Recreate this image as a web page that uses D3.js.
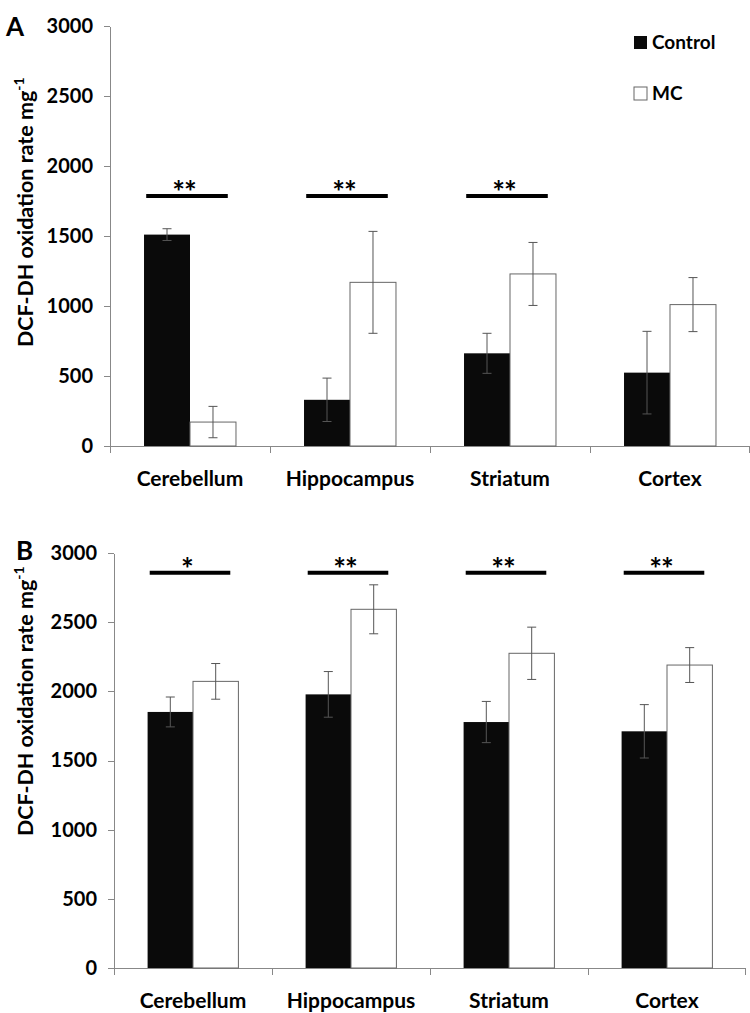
<!DOCTYPE html>
<html lang="en">
<head>
    <meta charset="UTF-8">
    <title>DCF-DH oxidation rate</title>
    <script src="https://d3js.org/d3.v7.min.js"></script>
    <style>
        *{padding:0; margin:0; box-sizing:border-box;}
        body{background:#fff;}
        text{font-family:Lato, "Open Sans", sans-serif; font-weight:700; fill:#000;}
        .axis path, .axis line{stroke:#888; stroke-width:1; shape-rendering:crispEdges;}
    </style>
</head>
<body>
    <script>
        // categories and series
        const regions = ['Cerebellum', 'Hippocampus', 'Striatum', 'Cortex'];
        const groups = ['Control', 'MC'];
        const yTicks = [0, 500, 1000, 1500, 2000, 2500, 3000];

        // panel A
        const aControl = [1510, 330, 662, 524];
        const aControlErr = [42, 155, 143, 295];
        const aMC = [171, 1169, 1229, 1010];
        const aMCErr = [112, 364, 225, 193];
        const aSig = ['**', '**', '**', ''];
        const aSigLevel = 1786;

        // panel B
        const bControl = [1851, 1978, 1778, 1711];
        const bControlErr = [108, 165, 149, 193];
        const bMC = [2072, 2593, 2275, 2190];
        const bMCErr = [129, 177, 189, 126];
        const bSig = ['*', '**', '**', '**'];
        const bSigLevel = 2858;

        const svg = d3.select('body').append('svg')
            .attr('width', 750).attr('height', 1013);

        function panel(opt){
            const g = svg.append('g');
            const x = d3.scaleBand().domain(regions).range([opt.left, opt.right]);
            const xi = d3.scaleBand().domain(groups).range([0, x.bandwidth()])
                .paddingInner(0).paddingOuter(0.74);
            const y = d3.scaleLinear().domain([0, 3000]).range([opt.bottom, opt.top]);

            // y axis
            g.append('g').attr('class', 'axis')
                .attr('transform', 'translate(' + opt.left + ',0)')
                .call(d3.axisLeft(y).tickValues(yTicks).tickFormat(d3.format('d'))
                    .tickSize(6).tickSizeOuter(0).tickPadding(11))
                .call(a => a.selectAll('text').style('font-size', '20px'));

            // x axis baseline + ticks at category boundaries
            const xa = g.append('g').attr('class', 'axis');
            xa.append('line')
                .attr('x1', opt.left).attr('x2', opt.right)
                .attr('y1', opt.bottom).attr('y2', opt.bottom);
            xa.selectAll('line.b').data(regions.concat(['end'])).enter().append('line')
                .attr('class', 'b')
                .attr('x1', (d, i) => i < regions.length ? x(d) : opt.right - 1)
                .attr('x2', (d, i) => i < regions.length ? x(d) : opt.right - 1)
                .attr('y1', opt.bottom).attr('y2', opt.bottom + 7);
            g.selectAll('text.cat').data(regions).enter().append('text')
                .attr('class', 'cat')
                .attr('x', d => x(d) + x.bandwidth() / 2)
                .attr('y', opt.bottom + 40)
                .attr('text-anchor', 'middle')
                .style('font-size', '21px')
                .text(d => d);

            // bars
            const rows = [];
            regions.forEach((r, i) => {
                rows.push({region: r, group: 'Control', v: opt.control[i], e: opt.controlErr[i]});
                rows.push({region: r, group: 'MC', v: opt.mc[i], e: opt.mcErr[i]});
            });
            g.selectAll('rect.bar').data(rows).enter().append('rect')
                .attr('class', 'bar')
                .attr('x', d => x(d.region) + xi(d.group))
                .attr('y', d => y(d.v))
                .attr('width', xi.bandwidth())
                .attr('height', d => y(0) - y(d.v))
                .attr('fill', d => d.group === 'Control' ? '#0a0a0a' : '#fff')
                .attr('stroke', d => d.group === 'Control' ? 'none' : '#666')
                .attr('stroke-width', 1);

            // error bars
            const eb = g.selectAll('g.err').data(rows).enter().append('g')
                .attr('class', 'err')
                .attr('stroke', '#555').attr('stroke-width', 1);
            const cx = d => x(d.region) + xi(d.group) + xi.bandwidth() / 2;
            eb.append('line')
                .attr('x1', cx).attr('x2', cx)
                .attr('y1', d => y(d.v + d.e)).attr('y2', d => y(d.v - d.e));
            eb.append('line')
                .attr('x1', d => cx(d) - 4.5).attr('x2', d => cx(d) + 4.5)
                .attr('y1', d => y(d.v + d.e)).attr('y2', d => y(d.v + d.e));
            eb.append('line')
                .attr('x1', d => cx(d) - 4.5).attr('x2', d => cx(d) + 4.5)
                .attr('y1', d => y(d.v - d.e)).attr('y2', d => y(d.v - d.e));

            // significance markers
            const sig = regions.map((r, i) => ({region: r, s: opt.sig[i]})).filter(d => d.s);
            const half = x.bandwidth() * 0.255;
            g.selectAll('line.sig').data(sig).enter().append('line')
                .attr('x1', d => x(d.region) + x.bandwidth() / 2 - half - 3)
                .attr('x2', d => x(d.region) + x.bandwidth() / 2 + half - 3)
                .attr('y1', y(opt.sigLevel)).attr('y2', y(opt.sigLevel))
                .attr('stroke', '#000').attr('stroke-width', 4);
            g.selectAll('text.sig').data(sig).enter().append('text')
                .attr('x', d => x(d.region) + x.bandwidth() / 2 - 6)
                .attr('y', y(opt.sigLevel) + 7)
                .attr('text-anchor', 'middle')
                .style('font-size', '30px')
                .style('letter-spacing', '-1px')
                .text(d => d.s);

            // y title
            const t = g.append('text')
                .attr('transform', 'translate(33,' + opt.titleBottom + ') rotate(-90)')
                .style('font-size', '21.5px');
            t.append('tspan').text('DCF-DH oxidation rate mg');
            t.append('tspan').attr('dy', -9).style('font-size', '14px').text('-1');

            // panel letter
            g.append('text')
                .attr('x', opt.letterX).attr('y', opt.letterY)
                .style('font-size', '26px')
                .text(opt.letter);
            return {x, y};
        }

        panel({
            left: 110, right: 750, top: 26, bottom: 446,
            control: aControl, controlErr: aControlErr, mc: aMC, mcErr: aMCErr,
            sig: aSig, sigLevel: aSigLevel, titleBottom: 347,
            letter: 'A', letterX: 6, letterY: 36
        });
        panel({
            left: 114, right: 746, top: 553, bottom: 968,
            control: bControl, controlErr: bControlErr, mc: bMC, mcErr: bMCErr,
            sig: bSig, sigLevel: bSigLevel, titleBottom: 836,
            letter: 'B', letterX: 16, letterY: 560
        });

        // legend (panel A only)
        const legend = svg.append('g');
        legend.selectAll('rect').data(groups).enter().append('rect')
            .attr('x', 634).attr('y', (d, i) => 36 + i * 51)
            .attr('width', 13).attr('height', 13)
            .attr('fill', d => d === 'Control' ? '#0a0a0a' : '#fff')
            .attr('stroke', d => d === 'Control' ? 'none' : '#666');
        legend.selectAll('text').data(groups).enter().append('text')
            .attr('x', 652).attr('y', (d, i) => 49 + i * 51)
            .style('font-size', '19px')
            .text(d => d);
    </script>
</body>
</html>
